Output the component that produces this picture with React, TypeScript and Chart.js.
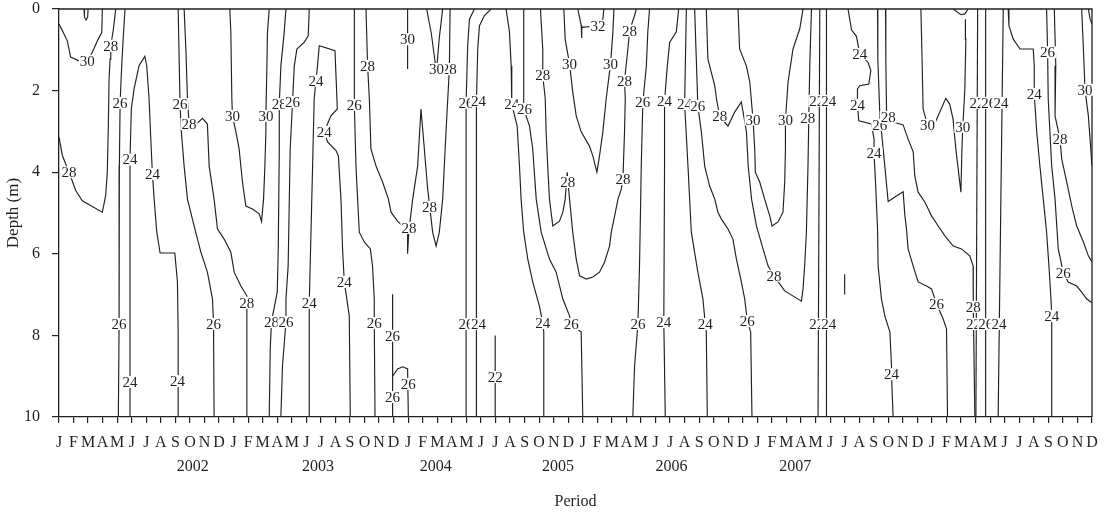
import React, { useEffect, useRef } from "react";
import { Chart, registerables } from "chart.js";

Chart.register(...registerables);

// ---- axis text ----
const monthLetters = ["J", "F", "M", "A", "M", "J", "J", "A", "S", "O", "N", "D"];
const yearLabels = ["2002", "2003", "2004", "2005", "2006", "2007"];
const yearLabelMonth = [9.2, 17.8, 25.9, 34.3, 42.1, 50.6];
const depthTicks = [0, 2, 4, 6, 8, 10];

// ---- contour lines: [month index, depth (m)] ----
const c00Tiny = [[1.72, 0], [1.75, 0.2], [1.86, 0.27], [1.97, 0.2], [2.0, 0]];
const c30A = [[0, 0.37], [0.23, 0.53], [0.57, 0.78], [0.8, 1.18], [1.38, 1.27], [1.95, 1.27], [2.29, 1.06], [2.64, 0.78], [2.94, 0.57], [2.98, 0]];
const c28A = [[0, 3.14], [0.23, 3.59], [0.69, 4.0], [1.15, 4.45], [1.6, 4.7], [2.98, 4.98], [3.21, 4.57], [3.32, 4.0], [3.39, 2.86], [3.44, 1.72], [3.51, 1.23], [3.56, 0.9], [3.74, 0.49], [3.9, 0]];
const c26A = [[4.54, 0], [4.42, 0.67], [4.31, 1.39], [4.2, 2.3], [4.15, 3.84], [4.13, 6.29], [4.13, 7.72], [4.08, 10]];
const c24A = [[4.88, 10], [4.88, 7.92], [4.88, 3.69], [4.97, 2.45], [5.16, 1.96], [5.5, 1.39], [5.9, 1.16], [6.03, 1.39], [6.19, 2.2], [6.31, 3.19], [6.42, 4.04], [6.54, 4.66], [6.72, 5.47], [6.95, 5.98], [7.96, 5.98], [8.14, 6.69], [8.19, 7.92], [8.19, 10]];
const c26B = [[8.19, 0], [8.32, 2.33], [8.41, 3.01], [8.6, 3.85], [8.83, 4.66], [9.29, 5.32], [9.75, 5.96], [10.2, 6.45], [10.55, 7.11], [10.62, 7.72], [10.66, 10]];
const c28B = [[8.6, 0], [8.72, 0.98], [8.83, 2.2], [8.94, 2.82], [9.5, 2.8], [9.86, 2.68], [10.2, 2.82], [10.32, 3.85], [10.66, 4.66], [10.89, 5.39], [11.35, 5.64], [11.81, 5.96], [12.04, 6.45], [12.5, 6.79], [12.91, 7.03], [12.91, 7.2], [12.91, 10]];
const c30B = [[11.74, 0], [11.81, 0.56], [11.88, 2.2], [11.92, 2.62], [12.16, 3.01], [12.38, 3.43], [12.61, 4.24], [12.84, 4.83], [13.3, 4.9], [13.76, 5.02], [13.92, 5.21], [14.06, 4.66], [14.15, 3.85], [14.22, 3.01], [14.22, 2.62], [14.29, 1.39], [14.33, 0.56], [14.45, 0]];
const c28C = [[15.6, 0], [15.48, 0.56], [15.25, 1.4], [15.14, 2.33], [15.14, 3.43], [15.07, 5.88], [15.0, 6.94], [14.6, 7.67], [14.52, 8.33], [14.45, 10]];
const c26C = [[17.2, 0], [17.13, 0.66], [16.86, 0.81], [16.35, 0.98], [16.17, 1.4], [16.05, 2.28], [15.89, 3.43], [15.75, 6.3], [15.6, 7.11], [15.6, 7.67], [15.36, 8.75], [15.25, 10]];
const c24B = [[17.2, 10], [17.2, 7.2], [17.32, 5.47], [17.43, 3.85], [17.54, 2.2], [17.66, 1.76], [17.77, 1.39], [17.85, 1.05], [17.89, 0.9], [18.97, 1.02], [19.13, 2.45], [18.69, 2.62], [18.23, 3.01], [18.46, 3.26], [19.04, 3.47], [19.2, 3.6], [19.38, 4.66], [19.49, 5.88], [19.61, 6.69], [19.95, 7.52], [20.02, 10]];
const c26D = [[20.3, 0], [20.3, 2.35], [20.41, 3.85], [20.64, 5.47], [20.98, 5.71], [21.4, 5.88], [21.55, 6.3], [21.67, 7.11], [21.67, 7.7], [21.72, 10]];
const c28D = [[21.1, 0], [21.21, 1.39], [21.33, 2.2], [21.44, 3.43], [21.79, 3.85], [22.24, 4.24], [22.64, 4.66], [22.82, 4.98], [23.27, 5.2], [23.62, 5.32], [23.96, 5.37], [23.96, 6.0], [24.04, 5.47], [24.31, 4.66], [24.65, 3.85], [24.88, 2.45], [25.11, 3.43], [25.34, 4.41], [25.48, 4.85], [25.68, 5.47], [25.92, 5.81], [26.14, 5.47], [26.37, 4.66], [26.6, 3.01], [26.83, 1.47], [26.88, 0]];
const c30C = [[23.96, 0], [23.96, 1.47]];
const c30D = [[25.27, 0], [25.59, 0.6], [25.85, 1.3], [25.92, 1.45], [26.0, 1.3], [26.14, 0.7], [26.37, 0]];
const c26E = [[22.93, 6.99], [22.93, 10]];
const c26F = [[22.93, 9.0], [23.27, 8.82], [23.62, 8.77], [23.96, 8.82], [24.01, 10]];
const c26G = [[28.55, 0], [28.21, 0.25], [28.09, 0.9], [27.98, 2.3], [27.98, 10]];
const c24C = [[29.7, 0], [29.24, 0.16], [28.9, 0.41], [28.78, 0.98], [28.69, 2.3], [28.69, 10]];
const c22A = [[29.98, 8.0], [29.98, 10]];
const c24D = [[30.73, 0], [30.96, 0.56], [31.08, 1.4], [31.12, 2.33], [31.49, 2.87], [31.65, 3.85], [31.76, 4.66], [31.94, 5.47], [32.22, 6.13], [32.56, 6.69], [33.02, 7.28], [33.25, 7.7], [33.32, 7.92], [33.32, 10]];
const c26H = [[31.94, 0], [31.94, 2.45], [32.34, 2.87], [32.56, 3.43], [32.8, 4.66], [33.14, 5.47], [33.71, 6.13], [34.17, 6.45], [34.63, 7.11], [35.09, 7.52], [35.2, 7.72], [35.89, 7.92], [36.0, 10]];
const c28E = [[33.09, 0], [33.25, 0.98], [33.25, 1.63], [33.42, 2.2], [33.48, 3.01], [33.59, 3.85], [33.71, 4.66], [33.94, 5.32], [34.4, 5.2], [34.63, 4.98], [34.79, 4.66], [34.93, 4.0], [35.09, 4.66], [35.31, 5.47], [35.55, 6.13], [35.78, 6.54], [36.24, 6.62], [36.69, 6.57], [37.15, 6.45], [37.5, 6.2], [37.84, 5.81], [37.96, 5.47], [38.19, 5.07], [38.42, 4.66], [38.65, 4.41], [38.76, 4.17], [38.87, 3.01], [38.92, 2.2], [38.87, 1.76], [39.1, 0.98], [39.22, 0.53], [39.56, 0.16], [39.68, 0]];
const c30E = [[34.7, 0], [34.79, 0.74], [35.09, 1.35], [35.31, 2.03], [35.55, 2.62], [35.89, 3.01], [36.46, 3.36], [36.69, 3.6], [36.97, 4.0], [37.15, 3.6], [37.38, 3.01], [37.61, 2.2], [37.84, 1.54], [37.91, 1.35], [38.07, 0.56], [38.14, 0]];
const c32A = [[35.66, 0], [35.89, 0.4], [35.93, 0.71]];
const c32B = [[35.93, 0.45], [37.04, 0.41], [37.38, 0.25], [37.45, 0]];
const c26I = [[40.59, 0], [40.47, 0.56], [40.37, 1.4], [40.13, 2.28], [40.02, 3.85], [39.9, 6.3], [39.79, 7.72], [39.56, 8.75], [39.44, 10]];
const c24E = [[42.59, 0], [42.43, 0.56], [41.97, 0.82], [41.81, 1.4], [41.62, 2.25], [41.62, 3.85], [41.57, 7.67], [41.67, 10]];
const c24F = [[43.12, 0], [43.0, 2.33], [43.23, 3.85], [43.46, 5.47], [43.91, 6.45], [44.26, 7.11], [44.42, 7.72], [44.49, 7.92], [44.56, 10]];
const c26J = [[43.69, 0], [43.8, 1.2], [43.91, 2.38], [44.15, 3.01], [44.38, 3.85], [44.72, 4.34], [45.07, 4.66], [45.29, 4.98], [45.53, 5.15], [45.98, 5.39], [46.32, 5.64], [46.56, 6.13], [46.9, 6.69], [47.13, 7.11], [47.31, 7.65], [47.54, 7.92], [47.63, 10]];
const c28F = [[44.49, 0], [44.6, 1.23], [45.07, 1.88], [45.19, 2.2], [45.41, 2.62], [45.98, 2.87], [46.45, 2.52], [46.9, 2.28], [47.25, 3.01], [47.37, 3.85], [47.6, 4.66], [47.94, 5.32], [48.39, 5.88], [48.74, 6.3], [49.14, 6.54], [49.88, 6.91], [51.03, 7.16], [51.14, 6.86], [51.25, 6.3], [51.37, 5.47], [51.48, 3.85], [51.53, 2.77], [51.6, 1.4], [51.72, 0]];
const c30F = [[46.67, 0], [46.78, 0.98], [47.25, 1.4], [47.48, 1.79], [47.7, 2.71], [47.82, 3.43], [47.86, 4.0], [48.16, 4.24], [48.5, 4.66], [48.85, 5.07], [49.01, 5.32], [49.42, 5.22], [49.76, 4.98], [49.88, 4.24], [49.93, 3.43], [49.93, 2.71], [50.11, 1.79], [50.45, 0.98], [50.91, 0.49], [51.14, 0]];
const c22B = [[52.29, 0], [52.17, 10]];
const c24G = [[52.75, 0], [52.75, 10]];
const cSeg = [[54.0, 6.5], [54.0, 7.0]];
const c24H = [[54.23, 0], [54.47, 0.51], [54.81, 0.67], [55.04, 1.1], [55.61, 1.31], [55.8, 1.51], [55.66, 1.84], [55.04, 1.88], [54.88, 1.96], [54.88, 2.35], [54.97, 2.74], [55.84, 2.82], [56.02, 3.19], [56.02, 3.53], [56.12, 4.24], [56.26, 5.39], [56.3, 6.3], [56.53, 7.11], [56.76, 7.52], [57.11, 7.92], [57.22, 8.75], [57.22, 8.95], [57.33, 10]];
const c26K = [[56.26, 0], [56.28, 1.24], [56.41, 2.52], [56.41, 2.84], [56.53, 3.01], [56.76, 3.85], [56.99, 4.72], [57.45, 4.61], [58.02, 4.48], [58.14, 5.07], [58.25, 5.39], [58.36, 5.88], [58.71, 6.3], [59.05, 6.69], [59.63, 6.79], [59.97, 6.86], [60.32, 7.23], [60.77, 7.6], [61.0, 7.84], [61.07, 10]];
const c28G = [[56.81, 0], [56.83, 1.24], [56.88, 2.52], [56.99, 2.65], [57.33, 2.77], [58.02, 2.84], [58.36, 3.19], [58.71, 3.5], [58.82, 4.09], [59.05, 4.49], [59.51, 4.73], [59.97, 5.07], [60.43, 5.32], [60.89, 5.56], [61.46, 5.81], [62.03, 5.88], [62.6, 6.05], [62.83, 6.3], [62.85, 7.11], [62.83, 7.3], [62.95, 10]];
const c30G = [[59.24, 0], [59.33, 1.39], [59.39, 2.45], [59.69, 2.84], [59.97, 2.98], [60.42, 2.62], [60.95, 2.19], [61.22, 2.33], [61.45, 2.7], [61.64, 3.43], [61.99, 4.49], [62.06, 3.43], [62.12, 2.89], [62.26, 1.96], [62.33, 0.74], [62.3, 0.25]];
const c30H = [[61.45, 0], [61.99, 0.14], [62.26, 0.12], [62.49, 0]];
const c22C = [[63.14, 0], [63.02, 10]];
const c26L = [[63.69, 0], [63.69, 10]];
const c24I = [[64.9, 0], [64.55, 10]];
const c24J = [[65.24, 0], [65.29, 0.41], [65.59, 0.74], [66.05, 0.98], [66.96, 0.98], [67.03, 1.39], [67.03, 2.08], [67.2, 3.01], [67.42, 3.85], [67.65, 4.66], [67.88, 5.47], [68.04, 6.3], [68.18, 7.11], [68.23, 7.52], [68.23, 10]];
const c26M = [[67.88, 0], [67.95, 1.06], [67.99, 2.2], [68.23, 3.85], [68.46, 4.66], [68.68, 5.88], [69.03, 6.47], [69.37, 6.69], [69.95, 6.79], [70.29, 6.94], [70.64, 7.11], [71, 7.2]];
const c28H = [[68.41, 0], [68.51, 1.39], [68.46, 2.62], [68.8, 3.19], [68.92, 3.68], [69.26, 4.24], [69.61, 4.83], [69.95, 5.32], [70.41, 5.71], [70.75, 6.05], [71, 6.2]];
const c30I = [[70.29, 0], [70.41, 0.98], [70.52, 1.98], [70.75, 2.62], [71, 3.85]];
const c30J = [[70.75, 0], [70.87, 0.25], [71, 0.37]];

const contourLines = [
  c00Tiny, c30A, c28A, c26A, c24A, c26B, c28B, c30B, c28C, c26C, c24B, c26D, c28D, c30C, c30D,
  c26E, c26F, c26G, c24C, c22A, c24D, c26H, c28E, c30E, c32A, c32B, c26I, c24E, c24F, c26J,
  c28F, c30F, c22B, c24G, cSeg, c24H, c26K, c28G, c30G, c30H, c22C, c26L, c24I, c24J, c26M,
  c28H, c30I, c30J,
];

// ---- contour labels: [month index, depth (m), level] ----
const contourLabels: [number, number, string][] = [
  [1.95, 1.27, "30"], [0.69, 4.0, "28"], [3.56, 0.9, "28"],
  [4.2, 2.3, "26"], [4.13, 7.72, "26"],
  [4.88, 3.69, "24"], [6.42, 4.04, "24"], [4.88, 9.14, "24"], [8.14, 9.12, "24"],
  [8.32, 2.33, "26"], [10.62, 7.72, "26"],
  [8.94, 2.82, "28"], [12.91, 7.2, "28"],
  [11.92, 2.62, "30"], [14.22, 2.62, "30"],
  [15.14, 2.33, "28"], [14.6, 7.67, "28"],
  [16.05, 2.28, "26"], [15.6, 7.67, "26"],
  [17.66, 1.76, "24"], [18.23, 3.01, "24"], [19.61, 6.69, "24"], [17.2, 7.2, "24"],
  [20.3, 2.35, "26"], [21.67, 7.7, "26"],
  [21.21, 1.39, "28"], [24.05, 5.37, "28"], [25.46, 4.85, "28"], [26.83, 1.47, "28"],
  [23.96, 0.74, "30"], [25.94, 1.47, "30"],
  [22.93, 8.01, "26"], [22.93, 9.51, "26"], [24.01, 9.19, "26"],
  [27.98, 2.3, "26"], [27.98, 7.72, "26"], [28.83, 2.25, "24"], [28.83, 7.72, "24"],
  [29.98, 9.02, "22"],
  [31.12, 2.33, "24"], [33.25, 7.7, "24"],
  [32.0, 2.45, "26"], [35.2, 7.72, "26"],
  [33.25, 1.63, "28"], [34.97, 4.24, "28"], [38.76, 4.17, "28"], [38.87, 1.76, "28"], [39.22, 0.53, "28"],
  [35.09, 1.35, "30"], [37.91, 1.35, "30"],
  [37.04, 0.41, "32"],
  [40.13, 2.28, "26"], [39.79, 7.72, "26"],
  [41.62, 2.25, "24"], [41.57, 7.67, "24"],
  [43.0, 2.33, "24"], [44.42, 7.72, "24"],
  [43.91, 2.38, "26"], [47.31, 7.65, "26"],
  [45.41, 2.62, "28"], [49.14, 6.54, "28"], [51.46, 2.67, "28"],
  [47.7, 2.71, "30"], [49.93, 2.71, "30"],
  [52.08, 2.25, "22"], [52.91, 2.25, "24"], [52.08, 7.72, "22"], [52.91, 7.72, "24"],
  [55.04, 1.1, "24"], [54.88, 2.35, "24"], [56.02, 3.53, "24"], [57.22, 8.95, "24"],
  [56.41, 2.84, "26"], [60.32, 7.23, "26"],
  [56.99, 2.65, "28"], [62.83, 7.3, "28"],
  [59.69, 2.84, "30"], [62.12, 2.89, "30"],
  [63.1, 2.3, "22"], [63.91, 2.3, "26"], [64.74, 2.3, "24"],
  [62.85, 7.72, "22"], [63.7, 7.72, "26"], [64.6, 7.72, "24"],
  [67.03, 2.08, "24"], [68.23, 7.52, "24"],
  [67.95, 1.06, "26"], [69.03, 6.47, "26"],
  [68.8, 3.19, "28"],
  [70.52, 1.98, "30"],
];

const INK = "#231f20";
const FONT = "'Liberation Serif', 'DejaVu Serif', serif";

const decorPlugin = {
  id: "decor",
  afterDatasetsDraw(chart: any) {
    const { ctx, chartArea, scales } = chart;
    const xs = scales.x;
    const ys = scales.y;
    ctx.save();
    // frame top & right
    ctx.strokeStyle = INK;
    ctx.lineWidth = 1.3;
    ctx.beginPath();
    ctx.moveTo(chartArea.left, chartArea.top);
    ctx.lineTo(chartArea.right, chartArea.top);
    ctx.lineTo(chartArea.right, chartArea.bottom);
    ctx.stroke();
    // contour labels
    ctx.font = `15px ${FONT}`;
    ctx.textAlign = "center";
    ctx.textBaseline = "middle";
    for (const [m, d, t] of contourLabels) {
      const px = xs.getPixelForValue(m);
      const py = ys.getPixelForValue(d);
      const w = ctx.measureText(t).width;
      ctx.fillStyle = "#ffffff";
      ctx.fillRect(px - w / 2 - 1, py - 6, w + 2, 12);
      ctx.fillStyle = INK;
      ctx.fillText(t, px, py + 1);
    }
    // year labels
    ctx.font = `16px ${FONT}`;
    for (let i = 0; i < yearLabels.length; i++) {
      ctx.fillText(yearLabels[i], xs.getPixelForValue(yearLabelMonth[i]), 467);
    }
    // axis titles
    ctx.fillText("Period", (chartArea.left + chartArea.right) / 2, 502);
    ctx.translate(14, (chartArea.top + chartArea.bottom) / 2);
    ctx.rotate(-Math.PI / 2);
    ctx.font = `17px ${FONT}`;
    ctx.fillText("Depth (m)", 0, 0);
    ctx.restore();
  },
};

export default function App() {
  const ref = useRef<HTMLCanvasElement | null>(null);
  useEffect(() => {
    if (!ref.current) return;
    const chart = new Chart(ref.current, {
      type: "scatter",
      data: {
        datasets: contourLines.map((pts) => ({
          data: pts.map(([x, y]) => ({ x, y })),
          showLine: true,
          pointRadius: 0,
          borderColor: INK,
          borderWidth: 1.15,
          tension: 0,
          fill: false,
        })),
      },
      options: {
        responsive: false,
        animation: false,
        events: [],
        layout: { padding: { top: 9, right: 14, left: 0, bottom: 0 } },
        plugins: { legend: { display: false }, tooltip: { enabled: false } },
        scales: {
          x: {
            type: "linear",
            position: "bottom",
            min: 0,
            max: 71,
            afterFit: (s: any) => {
              s.height = 97;
              s.paddingLeft = 0;
              s.paddingRight = 0;
            },
            afterBuildTicks: (s: any) => {
              s.ticks = Array.from({ length: 72 }, (_, i) => ({ value: i }));
            },
            ticks: {
              autoSkip: false,
              maxRotation: 0,
              minRotation: 0,
              padding: 10,
              color: INK,
              font: { family: FONT, size: 16 },
              callback: (v: any) => monthLetters[Math.round(Number(v)) % 12],
            },
            grid: { display: true, drawOnChartArea: false, drawTicks: true, tickLength: 6, color: INK, lineWidth: 1.2 },
            border: { display: true, color: INK, width: 1.3 },
          },
          y: {
            type: "linear",
            reverse: true,
            min: 0,
            max: 10,
            afterFit: (s: any) => {
              s.width = 59;
              s.paddingTop = 0;
              s.paddingBottom = 0;
            },
            afterBuildTicks: (s: any) => {
              s.ticks = depthTicks.map((v) => ({ value: v }));
            },
            ticks: {
              padding: 12,
              color: INK,
              font: { family: FONT, size: 16 },
            },
            grid: { display: true, drawOnChartArea: false, drawTicks: true, tickLength: 7, color: INK, lineWidth: 1.2 },
            border: { display: true, color: INK, width: 1.3 },
          },
        },
      },
      plugins: [decorPlugin],
    });
    return () => chart.destroy();
  }, []);
  return (
    <div style={{ position: "absolute", left: 0, top: 0, width: 1106, height: 514, background: "#fff" }}>
      <canvas ref={ref} width={1106} height={514} style={{ display: "block", width: 1106, height: 514 }} />
    </div>
  );
}
